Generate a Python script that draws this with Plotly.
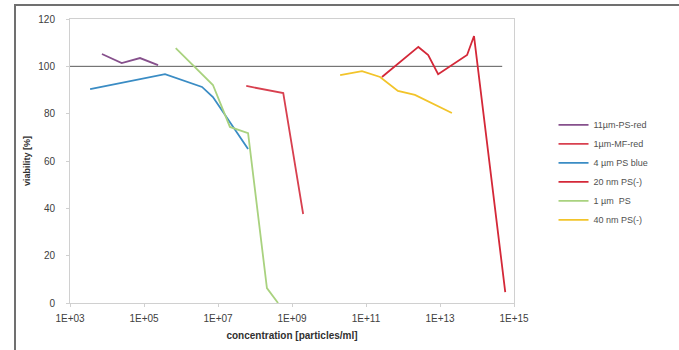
import plotly.graph_objects as go

# ---- data ----
purple_x = [7.3e3, 2.5e4, 7.8e4, 2.4e5]
purple_y = [105.2, 101.4, 103.5, 100.5]

mf_x = [5.8e7, 5.8e8, 2.0e9]
mf_y = [91.7, 88.7, 37.6]

blue_x = [3.5e3, 3.7e5, 3.7e6, 7.3e6, 6.5e7]
blue_y = [90.4, 96.7, 91.3, 87.0, 65.1]

nm20_x = [2.7e11, 2.6e12, 4.8e12, 8.9e12, 5.4e13, 8.3e13, 5.8e14]
nm20_y = [95.5, 108.2, 104.8, 96.7, 104.8, 112.8, 4.6]

green_x = [7.2e5, 7.3e6, 2.1e7, 6.5e7, 2.1e8, 4.2e8]
green_y = [107.7, 92.1, 74.4, 71.8, 6.3, 0.0]

nm40_x = [2.0e10, 7.8e10, 2.4e11, 7.3e11, 2.1e12, 2.1e13]
nm40_y = [96.3, 98.0, 95.5, 89.6, 87.9, 80.3]

ref_x = [1e3, 4.8e14]
ref_y = [100, 100]

x_tickvals = [1e3, 1e5, 1e7, 1e9, 1e11, 1e13, 1e15]
x_ticktext = ["1E+03", "1E+05", "1E+07", "1E+09", "1E+11", "1E+13", "1E+15"]
y_tickvals = [0, 20, 40, 60, 80, 100, 120]

series = [
    ("11\u00b5m-PS-red", purple_x, purple_y, "#86508c"),
    ("1\u00b5m-MF-red", mf_x, mf_y, "#d8404f"),
    ("4 \u00b5m PS blue", blue_x, blue_y, "#3a8cc4"),
    ("20 nm PS(-)", nm20_x, nm20_y, "#d42838"),
    ("1 \u00b5m\u00a0 PS", green_x, green_y, "#a9d27f"),
    ("40 nm PS(-)", nm40_x, nm40_y, "#f2c42a"),
]

fig = go.Figure()
fig.add_trace(go.Scatter(x=ref_x, y=ref_y, mode="lines",
                         line=dict(color="#5a5a5a", width=1),
                         showlegend=False, hoverinfo="skip"))
for name, xs, ys, col in series:
    fig.add_trace(go.Scatter(x=xs, y=ys, mode="lines", name=name,
                             line=dict(color=col, width=1.8)))

fig.update_layout(
    width=679, height=350,
    margin=dict(l=70, r=165, t=19, b=47),
    paper_bgcolor="white", plot_bgcolor="white",
    font=dict(family="Liberation Sans, Arial, sans-serif", size=10, color="#404040"),
    showlegend=True,
    legend=dict(x=1.089, y=0.678, xanchor="left", yanchor="top",
                font=dict(size=9, color="#505050"),
                bgcolor="rgba(0,0,0,0)", itemwidth=30,
                tracegroupgap=0),
    xaxis=dict(type="log", range=[3, 15], tickvals=x_tickvals, ticktext=x_ticktext,
               showgrid=False, zeroline=False, showline=True, linecolor="#d0d0d0",
               linewidth=1, mirror=True, ticks="outside", ticklen=3, tickcolor="#d0d0d0",
               ticklabelstandoff=3,
               tickfont=dict(size=10, color="#404040"),
               title=dict(text="<b>concentration [particles/ml]</b>",
                          font=dict(size=10, color="#303030"), standoff=8)),
    yaxis=dict(range=[0, 120], tickvals=y_tickvals,
               showgrid=False, zeroline=False, showline=True, linecolor="#d0d0d0",
               linewidth=1, mirror=True, ticks="outside", ticklen=3, tickcolor="#d0d0d0",
               ticklabelstandoff=9,
               tickfont=dict(size=10, color="#404040"),
               title=dict(text="<b>viability [%]</b>",
                          font=dict(size=9, color="#303030"), standoff=6)),
    shapes=[dict(type="rect", xref="paper", yref="paper",
                 x0=(15 - 70) / 444, x1=(685 - 70) / 444,
                 y0=(303 - 360) / 284, y1=(303 - 5) / 284,
                 line=dict(color="#707070", width=2), fillcolor="rgba(0,0,0,0)",
                 layer="below")],
)

fig.write_html("out.html")
